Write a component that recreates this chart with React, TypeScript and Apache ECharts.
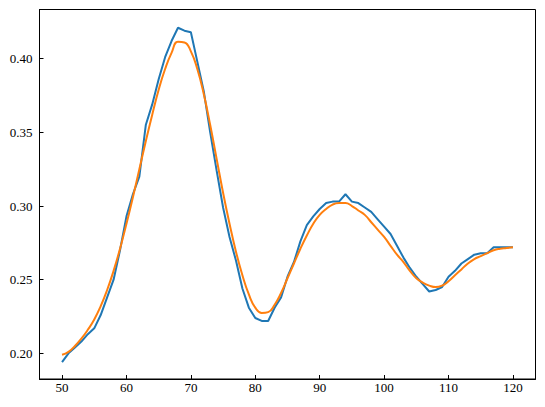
import React, { useEffect, useRef } from "react";
import * as echarts from "echarts";

const xValues = [
  50, 51, 52, 53, 54, 55, 56, 57, 58, 59, 60, 61, 62, 63, 64, 65, 66, 67, 68, 69,
  70, 71, 72, 73, 74, 75, 76, 77, 78, 79, 80, 81, 82, 83, 84, 85, 86, 87, 88, 89,
  90, 91, 92, 93, 94, 95, 96, 97, 98, 99, 100, 101, 102, 103, 104, 105, 106, 107,
  108, 109, 110, 111, 112, 113, 114, 115, 116, 117, 118, 119, 120,
];

const measured = [
  0.194, 0.200, 0.204, 0.208, 0.213, 0.217, 0.226, 0.238, 0.250, 0.270,
  0.293, 0.308, 0.320, 0.355, 0.369, 0.386, 0.401, 0.412, 0.421, 0.419,
  0.418, 0.398, 0.378, 0.350, 0.324, 0.299, 0.279, 0.263, 0.244, 0.231,
  0.224, 0.222, 0.222, 0.231, 0.238, 0.252, 0.262, 0.276, 0.287, 0.293,
  0.298, 0.302, 0.303, 0.303, 0.308, 0.303, 0.302, 0.299, 0.296, 0.291,
  0.286, 0.281, 0.273, 0.265, 0.258, 0.252, 0.247, 0.242, 0.243, 0.245,
  0.252, 0.256, 0.261, 0.264, 0.267, 0.268, 0.268, 0.272, 0.272, 0.272,
  0.272,
];

const fitted = [
  0.199, 0.201, 0.205, 0.210, 0.216, 0.223, 0.232, 0.243, 0.256, 0.271,
  0.288, 0.306, 0.325, 0.344, 0.362, 0.379, 0.393, 0.404, 0.4115, 0.411,
  0.405, 0.393, 0.376, 0.355, 0.332, 0.309, 0.288, 0.269, 0.253, 0.240,
  0.231, 0.2274, 0.228, 0.233, 0.241, 0.251, 0.261, 0.271, 0.280, 0.288,
  0.294, 0.298, 0.301, 0.302, 0.302, 0.300, 0.297, 0.294, 0.289, 0.284,
  0.279, 0.273, 0.267, 0.262, 0.256, 0.251, 0.248, 0.246, 0.245, 0.246,
  0.249, 0.253, 0.257, 0.261, 0.264, 0.266, 0.268, 0.270, 0.271, 0.2715,
  0.272,
];

const FONT = "Liberation Serif";

export default function App() {
  const ref = useRef<HTMLDivElement>(null);
  useEffect(() => {
    if (!ref.current) return;
    const chart = echarts.init(ref.current, undefined, { renderer: "svg" });
    const axisCommon = {
      axisLine: { show: true, onZero: false, lineStyle: { color: "#000", width: 1 } },
      axisTick: { show: true, inside: true, length: 4, lineStyle: { color: "#000", width: 1 } },
      splitLine: { show: false },
    };
    chart.setOption({
      animation: false,
      backgroundColor: "#fff",
      grid: {
        left: 39.5,
        right: 9.5,
        top: 9.5,
        bottom: 28,
        show: true,
        borderColor: "#000",
        borderWidth: 1,
        backgroundColor: "transparent",
      },
      xAxis: {
        type: "value",
        min: 46.5,
        max: 123.5,
        splitNumber: 8,
        ...axisCommon,
        axisLabel: {
          showMinLabel: false,
          showMaxLabel: false,
          color: "#000",
          fontFamily: FONT,
          fontSize: 13,
          margin: 2,
        },
      },
      yAxis: {
        type: "value",
        min: 0.1826,
        max: 0.4334,
        splitNumber: 5,
        ...axisCommon,
        axisLabel: {
          showMinLabel: false,
          showMaxLabel: false,
          color: "#000",
          fontFamily: FONT,
          fontSize: 13,
          margin: 7,
          formatter: (v: number) => v.toFixed(2),
        },
      },
      series: [
        {
          type: "line",
          data: xValues.map((x, i) => [x, measured[i]]),
          showSymbol: false,
          lineStyle: { color: "#1f77b4", width: 2 },
          itemStyle: { color: "#1f77b4" },
        },
        {
          type: "line",
          data: xValues.map((x, i) => [x, fitted[i]]),
          showSymbol: false,
          smooth: 0.5,
          lineStyle: { color: "#ff7f0e", width: 2 },
          itemStyle: { color: "#ff7f0e" },
        },
      ],
    });
    return () => chart.dispose();
  }, []);
  return (
    <div
      ref={ref}
      style={{ position: "fixed", left: 0, top: 0, width: 545, height: 407, background: "#fff" }}
    />
  );
}
